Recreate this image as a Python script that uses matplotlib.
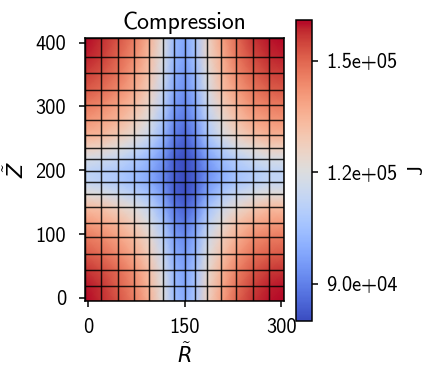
import numpy as np
import matplotlib
matplotlib.use("Agg")
import matplotlib.pyplot as plt

plt.rcParams["font.family"] = ["cmss10", "DejaVu Sans"]
plt.rcParams["mathtext.fontset"] = "custom"
plt.rcParams["mathtext.rm"] = "cmss10"
plt.rcParams["mathtext.it"] = "DejaVu Sans:italic"
plt.rcParams["axes.unicode_minus"] = False

# mesh node coordinates
r_nodes = [-5, 20, 46, 72, 95, 116, 134, 150, 166, 185, 207, 230, 256, 281, 304]
z_nodes = [-5, 18.5, 43, 68, 95, 118, 142, 163, 182, 199, 217, 235, 255, 278,
           302, 326, 353, 377, 408]

# J at each node (thousands), rows from bottom (z=-5) to top (z=408)
J_thousands = [
    [161, 158, 153, 146, 136, 121, 104, 99, 107, 126, 139, 150, 157, 160, 161],
    [160, 157, 151, 144, 134, 120, 103, 98, 106, 125, 137, 148, 155, 159, 160],
    [157, 154, 149, 142, 132, 118, 102, 97, 105, 123, 135, 145, 152, 156, 157],
    [152, 149, 144, 137, 128, 115, 99, 95, 102, 120, 131, 141, 148, 151, 152],
    [147, 144, 139, 133, 124, 111, 96, 92, 99, 116, 127, 136, 143, 146, 147],
    [141, 138, 134, 127, 119, 107, 92, 88, 95, 111, 122, 131, 137, 140, 141],
    [133, 131, 126, 121, 113, 101, 88, 84, 90, 105, 115, 123, 129, 133, 133],
    [122, 120, 116, 111, 105, 96, 84, 81, 86, 98, 107, 114, 119, 122, 122],
    [113, 111, 108, 104, 99, 92, 83, 80, 84, 94, 101, 106, 110, 113, 113],
    [112, 110, 108, 104, 99, 92, 83, 80, 84, 93, 100, 106, 109, 112, 112],
    [118, 116, 113, 108, 102, 94, 83, 80, 85, 96, 104, 110, 115, 118, 118],
    [127, 125, 121, 115, 108, 98, 86, 82, 88, 101, 110, 118, 123, 127, 127],
    [136, 134, 129, 123, 115, 103, 89, 85, 92, 107, 118, 126, 132, 136, 136],
    [142, 139, 135, 128, 120, 107, 92, 88, 95, 111, 122, 131, 138, 141, 142],
    [147, 144, 139, 133, 124, 111, 95, 91, 98, 115, 127, 136, 143, 146, 147],
    [152, 149, 144, 137, 128, 114, 98, 93, 101, 118, 131, 140, 147, 151, 152],
    [156, 153, 148, 140, 131, 117, 100, 95, 103, 121, 134, 144, 151, 155, 156],
    [159, 156, 150, 143, 133, 119, 102, 97, 105, 124, 136, 147, 154, 158, 159],
    [161, 158, 153, 146, 136, 121, 103, 98, 106, 125, 139, 149, 157, 160, 161],
]

x_ticks = [0, 150, 300]
y_ticks = [0, 100, 200, 300, 400]
cbar_ticks = [9.0e4, 1.2e5, 1.5e5]

R, Z = np.meshgrid(r_nodes, z_nodes)
J = np.array(J_thousands, dtype=float) * 1e3

fig = plt.figure(figsize=(4.28, 3.66), dpi=100)
ax = fig.add_axes([0.198, 0.1776, 0.4657, 0.7199])
cax = fig.add_axes([0.6916, 0.1238, 0.0367, 0.8216])

mesh = ax.pcolormesh(R, Z, J, cmap="coolwarm", shading="gouraud")

# element edges of the mesh
ax.vlines(r_nodes, z_nodes[0], z_nodes[-1], colors="k", linewidth=1.05, alpha=0.85)
ax.hlines(z_nodes, r_nodes[0], r_nodes[-1], colors="k", linewidth=1.05, alpha=0.85)

ax.set_xlim(r_nodes[0], r_nodes[-1])
ax.set_ylim(z_nodes[0], z_nodes[-1])
ax.set_xticks(x_ticks)
ax.set_yticks(y_ticks)
ax.tick_params(axis="x", labelsize=14.7, length=4.5, width=1.1, pad=7.5)
ax.tick_params(axis="y", labelsize=14.7, length=4.5, width=1.1, pad=9)
for s in ax.spines.values():
    s.set_linewidth(1.1)

ax.set_title("Compression", fontsize=17, pad=6)
ax.set_xlabel(r"$\tilde{R}$", fontsize=15, labelpad=4)
ax.set_ylabel(r"$\tilde{Z}$", fontsize=15, labelpad=5)

cb = fig.colorbar(mesh, cax=cax, ticks=cbar_ticks, format="%.1e")
cb.ax.tick_params(labelsize=14.7, length=4.5, width=1.1, pad=6)
cb.outline.set_linewidth(1.1)
cb.set_label("J", fontsize=15, rotation=90, labelpad=7)

fig.savefig("out.png", dpi=100)
